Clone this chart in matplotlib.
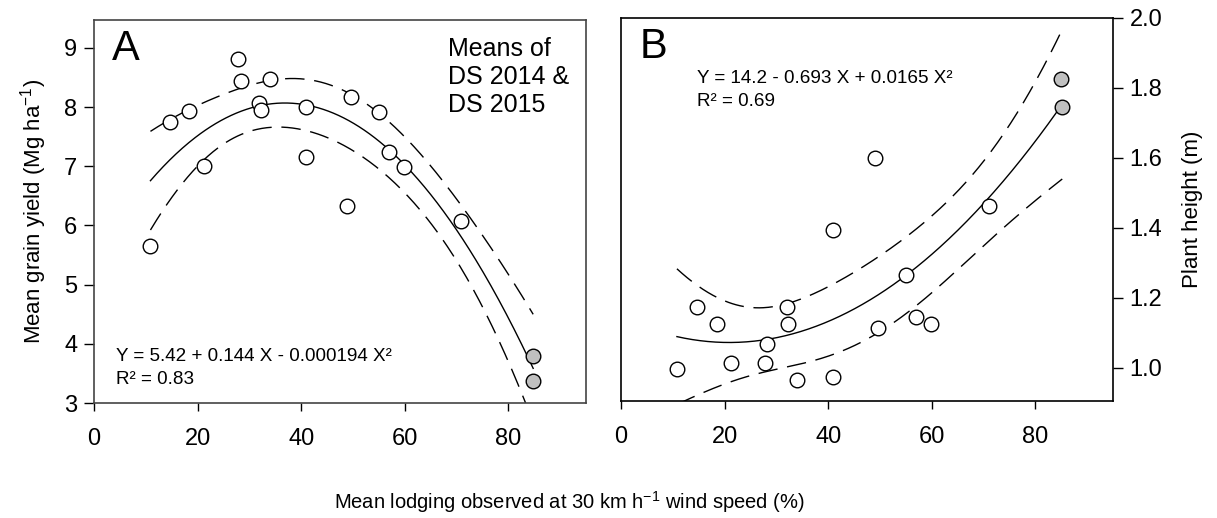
import numpy as np
import matplotlib
matplotlib.use('Agg')
import matplotlib.pyplot as plt

plt.rcParams['font.family'] = ['Liberation Sans', 'DejaVu Sans']
plt.rcParams['mathtext.fontset'] = 'custom'
plt.rcParams['mathtext.rm'] = 'Liberation Sans'
plt.rcParams['mathtext.it'] = 'Liberation Sans:italic'
plt.rcParams['mathtext.default'] = 'regular'

# ---------------- data ----------------
# Panel A: mean grain yield vs mean lodging
lodging_a = [10.9, 14.7, 18.4, 21.3, 27.8, 28.3, 31.9, 32.2, 33.9, 41.0, 41.0,
             48.8, 49.6, 55.1, 57.0, 59.8, 70.9]
yield_a = [5.66, 7.75, 7.94, 7.01, 8.81, 8.44, 8.06, 7.95, 8.47, 8.00, 7.15,
           6.33, 8.17, 7.91, 7.24, 6.99, 6.07]
lodging_a_grey = [84.8, 84.8]
yield_a_grey = [3.80, 3.37]

# Panel B: plant height vs mean lodging
lodging_b = [10.8, 14.6, 18.5, 21.3, 27.8, 28.1, 32.0, 32.3, 33.9, 41.0, 41.0,
             49.1, 49.6, 55.1, 56.9, 59.9, 71.0]
height_b = [0.996, 1.175, 1.125, 1.015, 1.015, 1.067, 1.175, 1.125, 0.965, 1.394,
            0.975, 1.600, 1.115, 1.265, 1.146, 1.125, 1.462]
lodging_b_grey = [84.9, 85.2]
height_b_grey = [1.825, 1.745]

x_ticks = [0, 20, 40, 60, 80]
ya_ticks = [3, 4, 5, 6, 7, 8, 9]
yb_ticks = [1.0, 1.2, 1.4, 1.6, 1.8, 2.0]

eq_a = "Y = 5.42 + 0.144 X - 0.000194 X\u00b2\nR\u00b2 = 0.83"
eq_b = "Y = 14.2 - 0.693 X + 0.0165 X\u00b2\nR\u00b2 = 0.69"
T_CRIT = 2.120  # t(0.975, df=16)


def quad_fit(x, y, xg):
    x = np.asarray(x, float)
    y = np.asarray(y, float)
    X = np.column_stack([np.ones_like(x), x, x ** 2])
    beta, *_ = np.linalg.lstsq(X, y, rcond=None)
    resid = y - X @ beta
    df = len(x) - 3
    s2 = resid @ resid / df
    cov = s2 * np.linalg.inv(X.T @ X)
    G = np.column_stack([np.ones_like(xg), xg, xg ** 2])
    fit = G @ beta
    se = np.sqrt(np.einsum('ij,jk,ik->i', G, cov, G))
    return fit, fit - T_CRIT * se, fit + T_CRIT * se


W, H = 1217, 518
fig = plt.figure(figsize=(W / 100, H / 100), dpi=100)

axA = fig.add_axes([94 / W, (H - 403) / H, 492 / W, 383 / H])
axB = fig.add_axes([621 / W, (H - 401) / H, 492 / W, 383 / H])

dash = (0, (14, 7))
FS = 17

for ax, xs, ys, xg_, yg_ in [(axA, lodging_a, yield_a, lodging_a_grey, yield_a_grey),
                             (axB, lodging_b, height_b, lodging_b_grey, height_b_grey)]:
    xall = np.array(xs + xg_)
    yall = np.array(ys + yg_)
    grid = np.linspace(xall.min(), xall.max(), 300)
    fit, lo, hi = quad_fit(xall, yall, grid)
    ax.plot(grid, fit, color='black', lw=1.0, zorder=2)
    ax.plot(grid, lo, color='black', lw=1.0, ls=dash, zorder=2)
    ax.plot(grid, hi, color='black', lw=1.0, ls=dash, zorder=2)
    ax.plot(xs, ys, 'o', ms=10.5, mfc='white', mec='black', mew=1.0, zorder=3)
    ax.plot(xg_, yg_, 'o', ms=10.5, mfc='#c0c0c0', mec='black', mew=1.0, zorder=3)
    ax.set_xlim(0, 95)
    ax.set_xticks(x_ticks)
    ax.tick_params(axis='x', direction='out', length=6, width=1, pad=12, labelsize=FS)

# Panel A axes
axA.set_ylim(3, 9.47)
axA.set_yticks(ya_ticks)
axA.tick_params(axis='y', direction='out', length=7, width=1, pad=5, labelsize=FS)
for sp in axA.spines.values():
    sp.set_color('#444444')
    sp.set_linewidth(1.2)
axA.set_ylabel('Mean grain yield (Mg ha$^{-1}$)', fontsize=16, labelpad=11)
axA.text(0.037, 0.896, 'A', transform=axA.transAxes, fontsize=30, va='baseline', ha='left')
axA.text(0.72, 0.955, 'Means of\nDS 2014 &\nDS 2015', transform=axA.transAxes,
         fontsize=18, va='top', ha='left', linespacing=1.2)
axA.text(0.045, 0.0496, eq_a, transform=axA.transAxes, fontsize=13.6,
         va='baseline', ha='left', linespacing=1.5)

# Panel B axes
axB.set_ylim(0.905, 2.0)
axB.set_yticks(yb_ticks)
axB.set_yticklabels([f'{v:.1f}' for v in yb_ticks])
axB.yaxis.tick_right()
axB.yaxis.set_label_position('right')
axB.tick_params(axis='y', direction='out', length=7, width=1, pad=5, labelsize=FS,
                left=False, labelleft=False)
for sp in axB.spines.values():
    sp.set_color('black')
    sp.set_linewidth(1.2)
axB.set_ylabel('Plant height (m)', fontsize=16, labelpad=14)
axB.text(0.037, 0.896, 'B', transform=axB.transAxes, fontsize=30, va='baseline', ha='left')
axB.text(0.155, 0.770, eq_b, transform=axB.transAxes, fontsize=13.6,
         va='baseline', ha='left', linespacing=1.5)

fig.text(569 / W, 1 - 502 / H, 'Mean lodging observed at 30 km h$^{-1}$ wind speed (%)',
         fontsize=14.5, ha='center', va='center')

fig.savefig('out.png', dpi=100)
